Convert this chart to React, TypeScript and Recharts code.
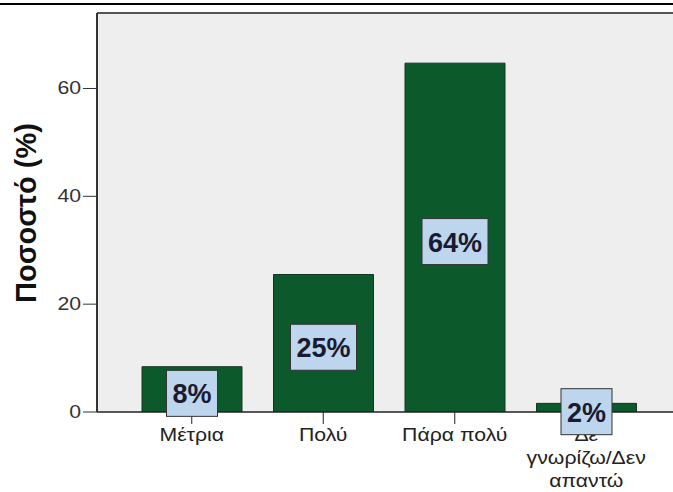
import React from 'react';
import { BarChart, Bar, XAxis, YAxis, CartesianGrid, LabelList, ReferenceLine } from 'recharts';

const categories = ['Μέτρια', 'Πολύ', 'Πάρα πολύ', 'Δε γνωρίζω/Δεν απαντώ'];
const tickLines: string[][] = [['Μέτρια'], ['Πολύ'], ['Πάρα πολύ'], ['Δε', 'γνωρίζω/Δεν', 'απαντώ']];
const percentages = [8.4, 25.5, 64.7, 1.6];
const valueLabels = ['8%', '25%', '64%', '2%'];
const yTicks = [0, 20, 40, 60];
const yMax = 74;
const yTitle = 'Ποσοστό (%)';

const data = categories.map((c, i) => ({ name: c, value: percentages[i], label: valueLabels[i] }));

const FONT = '"Liberation Sans", Arial, sans-serif';
const SX = 1.18;

const XTick = (props: any) => {
  const { x, y, payload } = props;
  const idx = categories.indexOf(payload.value);
  const lines = tickLines[idx] || [String(payload.value)];
  return (
    <g transform={`translate(${x},0) scale(${SX},1)`}>
      {lines.map((l, i) => (
        <text key={i} x={0} y={y + 15 + i * 23} textAnchor="middle" fontFamily={FONT} fontSize={18} fill="#222">
          {l}
        </text>
      ))}
    </g>
  );
};

const YTick = (props: any) => {
  const { x, y, payload } = props;
  return (
    <g transform={`translate(${x},0) scale(${SX},1)`}>
      <text x={0} y={y + 6} textAnchor="end" fontFamily={FONT} fontSize={18} fill="#333">
        {payload.value}
      </text>
    </g>
  );
};

const ValueBox = (props: any) => {
  const { x, y, width, height, value } = props;
  const s = String(value);
  const cx = x + width / 2;
  const cy = y + height / 2 + 4;
  const w = 21 + 15 * s.length;
  const h = 46;
  return (
    <g>
      <rect x={cx - w / 2} y={cy - h / 2} width={w} height={h} fill="#BDD6EE" stroke="#333" strokeWidth={1} />
      <text x={cx} y={cy + 10} textAnchor="middle" fontFamily={FONT} fontWeight="bold" fontSize={27} fill="#1a1a30">
        {s}
      </text>
    </g>
  );
};

const YTitle = () => (
  <text
    x={0}
    y={0}
    transform="translate(36, 213) rotate(-90)"
    textAnchor="middle"
    fontFamily={FONT}
    fontWeight="bold"
    fontSize={29}
    fill="#111"
  >
    {yTitle}
  </text>
);

export default function App() {
  return (
    <div style={{ position: 'absolute', left: 0, top: 0, width: 673, height: 492, overflow: 'hidden', background: '#fff' }}>
      <div style={{ position: 'absolute', left: 0, top: 3, width: 673, height: 2, background: '#000' }} />
      <BarChart width={700} height={492} data={data} margin={{ top: 13, right: 19, left: 0, bottom: 0 }} barCategoryGap={16}>
        <CartesianGrid fill="#EEEEEE" horizontal={false} vertical={false} />
        <ReferenceLine y={yMax} stroke="#555" strokeWidth={2} />
        <XAxis
          dataKey="name"
          height={80}
          padding={{ left: 29, right: 29 }}
          axisLine={{ stroke: '#222', strokeWidth: 1.5 }}
          tickLine={{ stroke: '#222' }}
          tickSize={12}
          tick={<XTick />}
          interval={0}
        />
        <YAxis
          width={97}
          domain={[0, yMax]}
          ticks={yTicks}
          allowDataOverflow
          axisLine={{ stroke: '#333', strokeWidth: 2 }}
          tickLine={{ stroke: '#333' }}
          tickSize={14}
          tickMargin={2}
          tick={<YTick />}
          label={<YTitle />}
        />
        <Bar dataKey="value" fill="#0C5A2B" stroke="#15361e" strokeWidth={1} isAnimationActive={false}>
          <LabelList dataKey="label" content={<ValueBox />} />
        </Bar>
      </BarChart>
    </div>
  );
}
